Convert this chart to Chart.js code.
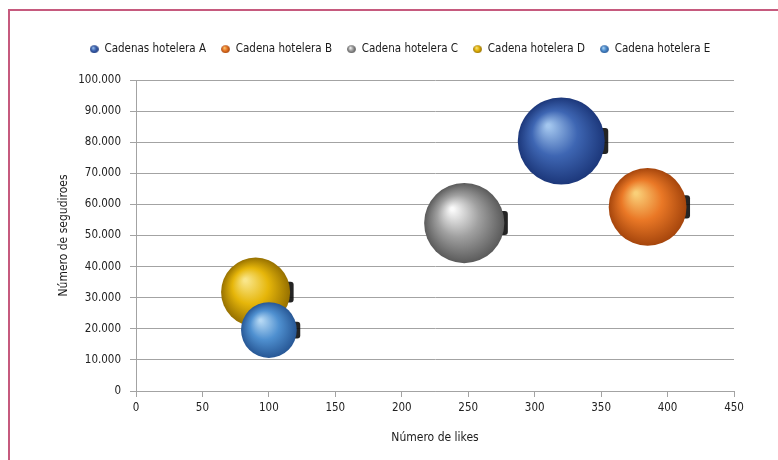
<!DOCTYPE html>
<html lang="es">
<head>
<meta charset="utf-8">
<title>Cadenas hoteleras: likes y seguidores</title>
<script src="https://cdn.jsdelivr.net/npm/chart.js@4"></script>
<style>
  html, body { margin: 0; padding: 0; background: #fff; width: 778px; height: 460px; overflow: hidden; }
  #marco { position: absolute; left: 8px; top: 9px; width: 820px; height: 480px;
           border-left: 2px solid #c65a7e; border-top: 2px solid #c65a7e; }
  #lienzo { position: absolute; left: 0; top: 0; width: 778px; height: 460px; }
</style>
</head>
<body>
<div id="marco"></div>
<div id="lienzo"><canvas id="grafico" width="778" height="460"></canvas></div>
<script>
// Datos: cadenas hoteleras, likes (eje X), seguidores (eje Y) y tamaño relativo de la burbuja
const cadenas = ['Cadenas hotelera A', 'Cadena hotelera B', 'Cadena hotelera C', 'Cadena hotelera D', 'Cadena hotelera E'];
const likes = [320, 385, 247, 90, 100];
const seguidores = [80400, 59200, 54000, 31800, 19600];
const tamano = [100, 80, 85, 63, 41];

// Marcas de los ejes
const marcasX = [0, 50, 100, 150, 200, 250, 300, 350, 400, 450];
const marcasY = [0, 10000, 20000, 30000, 40000, 50000, 60000, 70000, 80000, 90000, 100000];

// Paleta de cada esfera: brillo, tono medio, borde
const paleta = [
  ['#a3c6ee', '#3e66b3', '#1c377a'],
  ['#f9cf78', '#ea7826', '#a5450c'],
  ['#fafafa', '#a0a0a0', '#5a5a5a'],
  ['#f9e68a', '#e6b60a', '#967000'],
  ['#b5d8f4', '#4f90d0', '#275795']
];

const FUENTE = "'DejaVu Sans Condensed', 'DejaVu Sans', sans-serif";
const RADIO_MAX = 43.5;
const radioDe = t => RADIO_MAX * Math.sqrt(t / Math.max(...tamano));
const miles = v => String(v).replace(/\B(?=(\d{3})+(?!\d))/g, '.');

function degradado(ctx, cx, cy, r, c) {
  const g = ctx.createRadialGradient(cx - r * 0.3, cy - r * 0.35, r * 0.04, cx, cy, r);
  g.addColorStop(0, c[0]);
  g.addColorStop(0.5, c[1]);
  g.addColorStop(1, c[2]);
  return g;
}

// Pequeñas esferas para la leyenda
const iconos = paleta.map(c => {
  const cv = document.createElement('canvas');
  cv.width = 9; cv.height = 9;
  const x = cv.getContext('2d');
  x.fillStyle = degradado(x, 4.5, 5, 4.2, c);
  x.beginPath(); x.ellipse(4.5, 5, 4.4, 4, 0, 0, Math.PI * 2); x.fill();
  return cv;
});

const conjuntos = cadenas.map((nombre, i) => ({
  label: nombre,
  data: [{ x: likes[i], y: seguidores[i], r: radioDe(tamano[i]) }],
  yAxisID: 'y',
  order: i === 4 ? 0 : i + 1,
  borderWidth: 0,
  hoverBorderWidth: 0,
  backgroundColor: (c) => {
    const ch = c.chart;
    if (c.type !== 'data' || !c.raw || !ch.scales.x || !ch.scales.y) return paleta[i][1];
    const px = ch.scales.x.getPixelForValue(c.raw.x);
    const py = ch.scales.y.getPixelForValue(c.raw.y);
    if (!isFinite(px) || !isFinite(py) || !(c.raw.r > 0)) return paleta[i][1];
    return degradado(ch.ctx, px, py, c.raw.r, paleta[i]);
  }
}));

// Sombra oscura pegada al lado derecho de cada esfera
const sombras = {
  id: 'sombras',
  beforeDatasetsDraw(chart) {
    const ctx = chart.ctx;
    ctx.save();
    ctx.filter = 'blur(0.6px)';
    chart.data.datasets.forEach((ds, i) => {
      const meta = chart.getDatasetMeta(i);
      meta.data.forEach((el, j) => {
        const r = ds.data[j].r;
        const x0 = el.x + r * 0.8, x1 = el.x + r + 3.5;
        const h = r * 0.3;
        ctx.fillStyle = 'rgba(12,12,12,0.9)';
        ctx.beginPath();
        ctx.roundRect(x0, el.y - h, x1 - x0, 2 * h, 3);
        ctx.fill();
      });
    });
    ctx.restore();
  }
};

// Espacio bajo la leyenda
const espacioLeyenda = {
  id: 'espacioLeyenda',
  afterInit(chart) {
    const lg = chart.legend;
    if (!lg) return;
    const fit = lg.fit;
    lg.fit = function () { fit.call(this); this.height = 52; };
  }
};

const grafico = new Chart(document.getElementById('grafico'), {
  type: 'bubble',
  data: { datasets: conjuntos },
  plugins: [sombras, espacioLeyenda],
  options: {
    responsive: false,
    animation: false,
    events: [],
    layout: { padding: { top: 28, left: 22, right: 0, bottom: 0 } },
    plugins: {
      tooltip: { enabled: false },
      legend: {
        position: 'top',
        labels: {
          usePointStyle: true,
          boxWidth: 9,
          boxHeight: 9,
          padding: 15,
          color: '#1a1a1a',
          font: { family: FUENTE, size: 11.5 },
          generateLabels: () => cadenas.map((t, i) => ({
            text: t,
            fillStyle: paleta[i][1],
            strokeStyle: 'rgba(0,0,0,0)',
            lineWidth: 0,
            pointStyle: iconos[i],
            hidden: false,
            datasetIndex: i,
            fontColor: '#1a1a1a'
          }))
        }
      }
    },
    scales: {
      x: {
        type: 'linear',
        min: marcasX[0],
        max: marcasX[marcasX.length - 1],
        afterBuildTicks: s => { s.ticks = marcasX.map(v => ({ value: v })); },
        afterFit: s => { s.height = 69; },
        ticks: { color: '#222', padding: 4, maxRotation: 0, font: { family: FUENTE, size: 11.5 } },
        grid: { drawOnChartArea: false, color: '#a3a3a3', tickLength: 6 },
        border: { color: '#a3a3a3' },
        title: { display: true, text: 'Número de likes', color: '#1a1a1a',
                 font: { family: FUENTE, size: 12 }, padding: { top: 0, bottom: 15 } }
      },
      y: {
        type: 'linear',
        position: 'left',
        min: marcasY[0],
        max: marcasY[marcasY.length - 1],
        afterBuildTicks: s => { s.ticks = marcasY.map(v => ({ value: v })); },
        afterFit: s => { s.width = 114; },
        ticks: { color: '#222', padding: 9, callback: v => miles(v), font: { family: FUENTE, size: 11.5 } },
        grid: { color: '#a3a3a3', tickLength: 6 },
        border: { color: '#a3a3a3' },
        title: { display: true, text: 'Número de segudiroes', color: '#1a1a1a',
                 font: { family: FUENTE, size: 12 }, padding: { top: 35, bottom: 0 } }
      },
      yDer: {
        type: 'linear',
        position: 'right',
        display: true,
        min: 0,
        max: 1,
        grid: { display: false },
        ticks: { display: false },
        border: { display: false },
        afterFit: s => { s.width = 44; }
      }
    }
  }
});
// Segundo paso para que los degradados usen las escalas ya calculadas
grafico.update('none');
</script>
</body>
</html>
